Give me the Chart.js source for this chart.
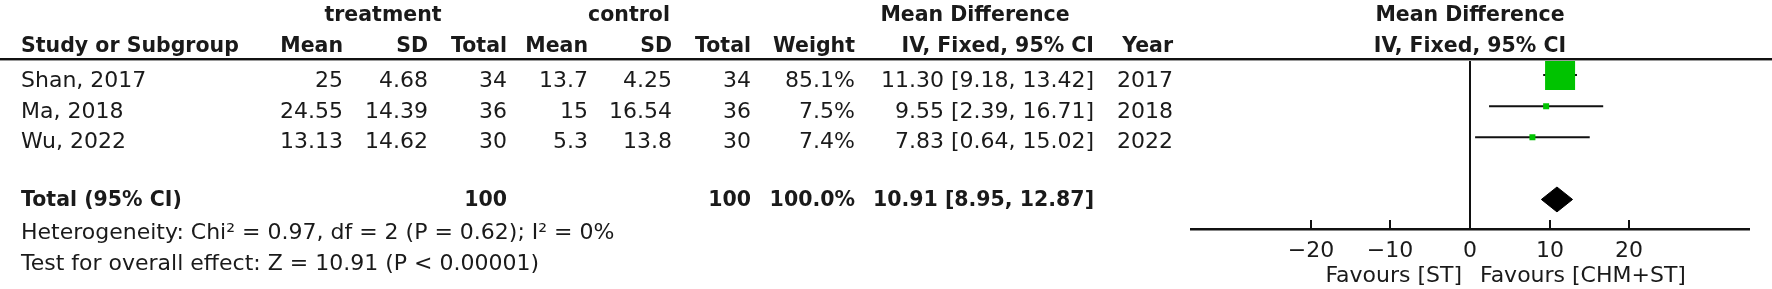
<!DOCTYPE html>
<html>
<head>
<meta charset="utf-8">
<script src="https://cdn.jsdelivr.net/npm/chart.js@4.4.1/dist/chart.umd.min.js"></script>
<style>
  html, body { margin: 0; padding: 0; background: #fff; }
  canvas { display: block; }
</style>
</head>
<body>
<canvas id="forest" width="1772" height="289"></canvas>
<script>
// study data
const studies = ['Shan, 2017', 'Ma, 2018', 'Wu, 2022'];
const trtMean = [25, 24.55, 13.13];
const trtSD = [4.68, 14.39, 14.62];
const trtTotal = [34, 36, 30];
const ctlMean = [13.7, 15, 5.3];
const ctlSD = [4.25, 16.54, 13.8];
const ctlTotal = [34, 36, 30];
const weights = [85.1, 7.5, 7.4];
const md = [11.30, 9.55, 7.83];
const ciLow = [9.18, 2.39, 0.64];
const ciHigh = [13.42, 16.71, 15.02];
const years = [2017, 2018, 2022];

// pooled result
const pooledTrtN = 100;
const pooledCtlN = 100;
const pooledWeight = 100.0;
const pooledMD = 10.91;
const pooledLow = 8.95;
const pooledHigh = 12.87;

const hetText = 'Heterogeneity: Chi\u00b2 = 0.97, df = 2 (P = 0.62); I\u00b2 = 0%';
const effectText = 'Test for overall effect: Z = 10.91 (P < 0.00001)';

const xTicks = [-20, -10, 0, 10, 20];
const favours = ['Favours [ST]', 'Favours [CHM+ST]'];

const TOTAL_ROW = 5;
const GREEN = '#00c300';
const INK = '#1a1a1a';
const REG = '22px "DejaVu Sans"';
const BOLD = 'bold 20.5px "DejaVu Sans"';

const fmt2 = v => v.toFixed(2);
const ciStr = (m, l, h) => `${fmt2(m)} [${fmt2(l)}, ${fmt2(h)}]`;
const tickStr = v => (v < 0 ? '\u2212' + Math.abs(v) : String(v));
const maxW = Math.max(...weights);
const boxSide = w => Math.max(6, 30 * w / maxW);

const datasets = [];

// squares on top
datasets.push({
  data: studies.map((s, i) => ({ x: md[i], y: i + 1 })),
  pointStyle: 'rect',
  pointRadius: ctx => boxSide(weights[ctx.dataIndex]) / Math.SQRT2,
  backgroundColor: GREEN,
  borderWidth: 0,
  showLine: false,
  order: 0
});

// confidence intervals
studies.forEach((s, i) => {
  datasets.push({
    data: [{ x: ciLow[i], y: i + 1 }, { x: ciHigh[i], y: i + 1 }],
    showLine: true,
    borderColor: '#111',
    borderWidth: 2,
    pointRadius: 0,
    order: 1
  });
});

// pooled diamond
datasets.push({
  data: [
    { x: pooledLow, y: TOTAL_ROW },
    { x: pooledMD, y: TOTAL_ROW - 0.4 },
    { x: pooledHigh, y: TOTAL_ROW },
    { x: pooledMD, y: TOTAL_ROW + 0.4 },
    { x: pooledLow, y: TOTAL_ROW }
  ],
  showLine: true,
  fill: 'shape',
  backgroundColor: '#000',
  borderColor: '#000',
  borderWidth: 1,
  pointRadius: 0,
  order: 1
});

// line of no effect
datasets.push({
  data: [{ x: 0, y: 0.5 }, { x: 0, y: 5.95 }],
  showLine: true,
  borderColor: '#111',
  borderWidth: 2,
  pointRadius: 0,
  order: 2
});

function txt(ctx, s, x, y, align, font) {
  ctx.font = font || REG;
  ctx.textAlign = align || 'left';
  ctx.fillText(s, x, y);
}

const tablePlugin = {
  id: 'forestTable',
  afterDraw(chart) {
    const ctx = chart.ctx;
    const xs = chart.scales.x;
    const x0 = xs.getPixelForValue(0);
    const axisY = chart.chartArea.bottom;
    ctx.save();
    ctx.fillStyle = INK;
    ctx.textBaseline = 'alphabetic';

    // header rows
    txt(ctx, 'treatment', 383, 21, 'center', BOLD);
    txt(ctx, 'control', 629, 21, 'center', BOLD);
    txt(ctx, 'Mean Difference', 975, 21, 'center', BOLD);
    txt(ctx, 'Mean Difference', x0, 21, 'center', BOLD);

    txt(ctx, 'Study or Subgroup', 21, 52, 'left', BOLD);
    txt(ctx, 'Mean', 343, 52, 'right', BOLD);
    txt(ctx, 'SD', 428, 52, 'right', BOLD);
    txt(ctx, 'Total', 507, 52, 'right', BOLD);
    txt(ctx, 'Mean', 588, 52, 'right', BOLD);
    txt(ctx, 'SD', 672, 52, 'right', BOLD);
    txt(ctx, 'Total', 751, 52, 'right', BOLD);
    txt(ctx, 'Weight', 855, 52, 'right', BOLD);
    txt(ctx, 'IV, Fixed, 95% CI', 1094, 52, 'right', BOLD);
    txt(ctx, 'Year', 1173, 52, 'right', BOLD);
    txt(ctx, 'IV, Fixed, 95% CI', x0, 52, 'center', BOLD);

    // double rule under header
    ctx.fillStyle = '#111';
    ctx.fillRect(0, 58, chart.width, 2);
    ctx.fillStyle = '#9a9a9a';
    ctx.fillRect(0, 60, chart.width, 1);
    ctx.fillStyle = INK;

    // study rows
    const base = [87, 118, 148];
    studies.forEach((s, i) => {
      const y = base[i];
      txt(ctx, s, 21, y, 'left');
      txt(ctx, String(trtMean[i]), 343, y, 'right');
      txt(ctx, String(trtSD[i]), 428, y, 'right');
      txt(ctx, String(trtTotal[i]), 507, y, 'right');
      txt(ctx, String(ctlMean[i]), 588, y, 'right');
      txt(ctx, String(ctlSD[i]), 672, y, 'right');
      txt(ctx, String(ctlTotal[i]), 751, y, 'right');
      txt(ctx, weights[i].toFixed(1) + '%', 855, y, 'right');
      txt(ctx, ciStr(md[i], ciLow[i], ciHigh[i]), 1094, y, 'right');
      txt(ctx, String(years[i]), 1173, y, 'right');
    });

    // total row
    txt(ctx, 'Total (95% CI)', 21, 206, 'left', BOLD);
    txt(ctx, String(pooledTrtN), 507, 206, 'right', BOLD);
    txt(ctx, String(pooledCtlN), 751, 206, 'right', BOLD);
    txt(ctx, pooledWeight.toFixed(1) + '%', 855, 206, 'right', BOLD);
    txt(ctx, ciStr(pooledMD, pooledLow, pooledHigh), 1094, 206, 'right', BOLD);

    txt(ctx, hetText, 21, 239, 'left');
    txt(ctx, effectText, 21, 270, 'left');

    // tick marks pointing up from the axis, with their labels below
    ctx.strokeStyle = '#111';
    ctx.lineWidth = 2;
    xTicks.forEach(v => {
      const px = Math.round(xs.getPixelForValue(v));
      ctx.beginPath();
      ctx.moveTo(px, axisY);
      ctx.lineTo(px, axisY - 9);
      ctx.stroke();
      txt(ctx, tickStr(v), px, 257, 'center');
    });

    // favours labels
    txt(ctx, favours[0], x0 - 8, 282, 'right');
    txt(ctx, favours[1], x0 + 10, 282, 'left');
    ctx.restore();
  }
};

new Chart(document.getElementById('forest'), {
  type: 'scatter',
  data: { datasets },
  plugins: [tablePlugin],
  options: {
    responsive: false,
    animation: false,
    devicePixelRatio: 1,
    layout: { padding: { left: 1191, right: 23, top: 59.5, bottom: 60 } },
    plugins: { legend: { display: false }, tooltip: { enabled: false } },
    scales: {
      x: {
        type: 'linear',
        min: -35,
        max: 35,
        afterBuildTicks: s => { s.ticks = xTicks.map(v => ({ value: v })); },
        afterFit: s => { s.height = 0; },
        grid: { display: false },
        border: { display: true, color: '#111', width: 2.5 },
        ticks: { display: false }
      },
      y: {
        type: 'linear',
        display: false,
        reverse: true,
        min: 0.5,
        max: 5.95
      }
    }
  }
});
</script>
</body>
</html>
